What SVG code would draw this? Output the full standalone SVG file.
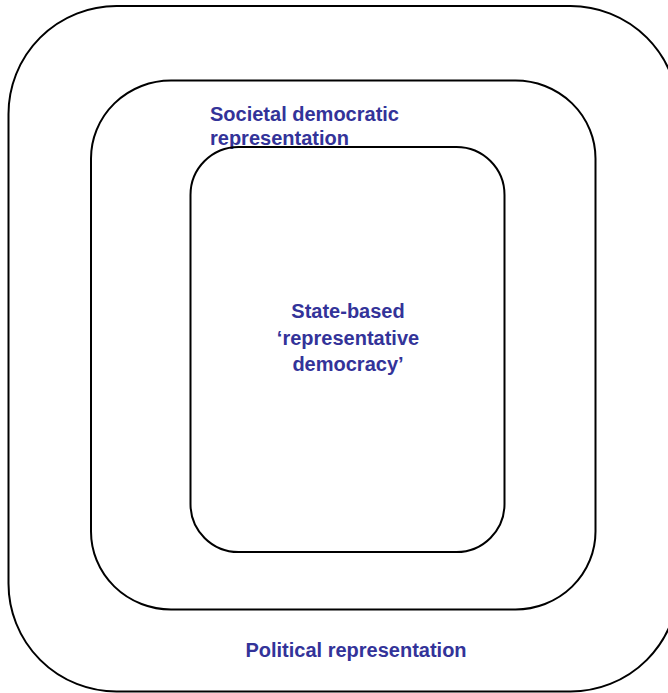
<svg xmlns="http://www.w3.org/2000/svg" width="668" height="693" viewBox="0 0 668 693">
<style>
.box{fill:none;stroke:#000;stroke-width:2}
.lbl{font-family:"Liberation Sans",Arial,sans-serif;font-weight:bold;font-size:20px;fill:#333399}
</style>
<rect width="668" height="693" fill="#fff"/>
<g id="outer">
<rect class="box" x="8.5" y="6" width="670" height="685.5" rx="108" ry="108"/>
<text class="lbl" x="356" y="657" text-anchor="middle">Political representation</text>
</g>
<g id="middle">
<rect class="box" x="91" y="80.5" width="504.5" height="529" rx="80" ry="78"/>
<text class="lbl" x="210" y="121">Societal democratic</text>
<text class="lbl" x="210" y="145">representation</text>
</g>
<g id="inner">
<rect class="box" x="190.5" y="147" width="314" height="405" rx="48" ry="48"/>
<text class="lbl" text-anchor="middle"><tspan x="348" y="318">State-based</tspan><tspan x="348" y="345">‘representative</tspan><tspan x="348" y="371">democracy’</tspan></text>
</g>
<g id="connectors"/>
</svg>
